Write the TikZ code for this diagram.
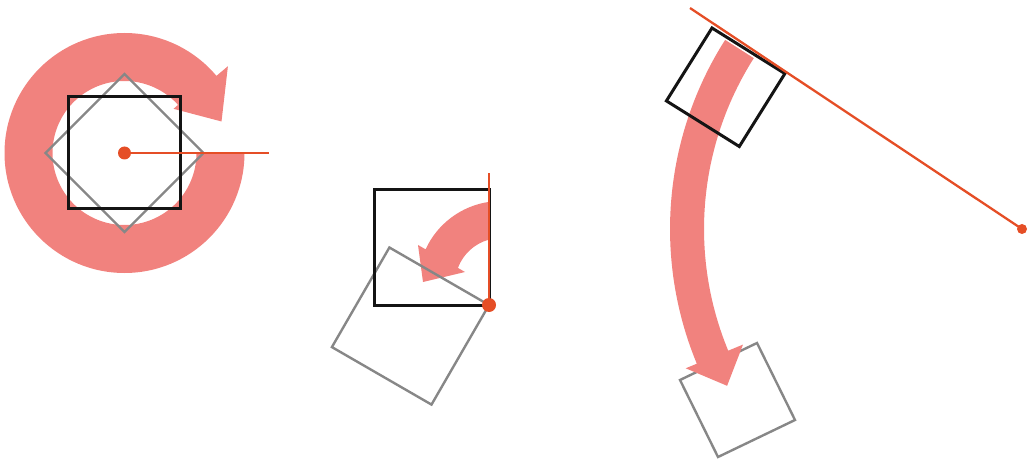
\documentclass[tikz,border=0pt]{standalone}
\definecolor{arrowpink}{RGB}{241,130,126}
\definecolor{redline}{RGB}{229,78,38}
\definecolor{graysq}{RGB}{135,135,135}
\definecolor{blacksq}{RGB}{20,20,20}
\begin{document}
\begin{tikzpicture}[x=1pt,y=1pt,
  blackbox/.style={draw=blacksq,line width=3pt},
  graybox/.style={draw=graysq,line width=2.4pt},
  redray/.style={draw=redline,line width=2.3pt},
  pivotdot/.style={fill=redline},
  sweep/.style={fill=arrowpink}]
\useasboundingbox (0,0) rectangle (1030,461);
% ---------- panel 1 ----------
\begin{scope}[shift={(124.5,308)}]
  \fill[sweep] (0:120) arc[start angle=0,end angle=-320,radius=120]
     -- (40:135) -- (18:102) -- (42:66) -- (42:72)
     arc[start angle=-318,end angle=0,radius=72] -- cycle;
  \draw[graybox] (0,79) -- (79,0) -- (0,-79) -- (-79,0) -- cycle;
  \draw[blackbox] (-56,-56) rectangle (56,56);
  \coordinate (c1) at (0,0);
  \coordinate (e1) at (144,0);
  \draw[redray] (c1) -- (e1);
  \fill[pivotdot] (c1) circle (6.5);
\end{scope}
% ---------- panel 2 ----------
\coordinate (p2) at (489,156);
\coordinate (top2) at (489,288);
\begin{scope}[shift={(501,177)}]
  \fill[sweep] (98.3:83) arc[start angle=98.3,end angle=155.3,radius=83]
     -- (-83,39) -- (-78,2) -- (-36,12) -- (159.5:46)
     arc[start angle=159.5,end angle=105.1,radius=46] -- cycle;
\end{scope}
\draw[graybox,rotate around={60:(p2)}] (374,156) -- (489,156) -- (489,271) -- (374,271) -- cycle;
\draw[blackbox] (374,156) rectangle (489,271);
\draw[redray] (p2) -- (top2);
\fill[pivotdot] (p2) circle (7);
% ---------- panel 3 ----------
\coordinate (p3) at (1022,232);
\coordinate (t3) at (690,453);
\draw[graybox] (680,81) -- (757,118) -- (795,41) -- (718,4) -- cycle;
\begin{scope}[shift={(p3)}]
  \fill[sweep] (147.5:352) arc[start angle=147.5,end angle=202.5,radius=352]
     -- (202.5:364) -- (208:334) -- (202.5:302) -- (202.5:318)
     arc[start angle=202.5,end angle=147.5,radius=318] -- cycle;
\end{scope}
\draw[blackbox] (712,433) -- (784.9,387.4) -- (739.3,314.5) -- (666.4,360.1) -- cycle;
\draw[redray] (p3) -- (t3);
\fill[pivotdot] (p3) circle (5);
\end{tikzpicture}
\end{document}
